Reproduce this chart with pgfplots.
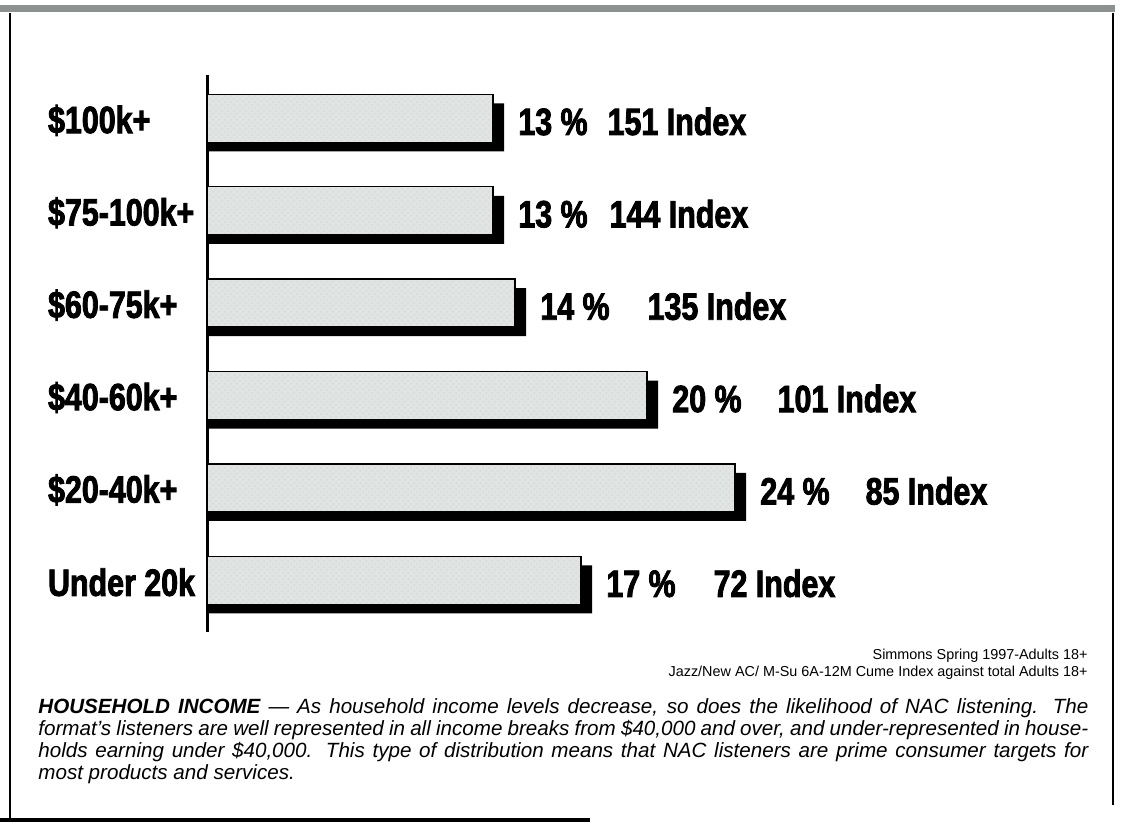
\documentclass[border=0pt]{standalone}
\usepackage{fontspec}
\setmainfont{Liberation Sans}
\newfontfamily\cond[FakeStretch=0.8,BoldFeatures={FakeBold=2.2}]{Liberation Sans}
\usepackage{pgfplots}
\pgfplotsset{compat=1.18}
\usetikzlibrary{patterns}

\definecolor{barfill}{RGB}{224,229,227}
\definecolor{band}{RGB}{140,146,143}

\begin{document}
\begin{tikzpicture}
\useasboundingbox (0,0) rectangle (562.5pt,412.5pt);
% frame
\fill[band] (0,406.5pt) rectangle (557.5pt,410pt);
\draw[line width=1.2pt] (5pt,406pt) -- (5pt,2pt);
\draw[line width=1.2pt] (556.5pt,406pt) -- (556.5pt,10pt);
\draw[line width=1.6pt] (0,2.5pt) -- (295pt,2.5pt);

\begin{axis}[
  anchor=south west, at={(103.5pt,96.5pt)},
  scale only axis, width=440pt, height=278.5pt,
  xmin=0, xmax=40, ymin=-0.56, ymax=5.47,
  axis x line=none, axis y line=left,
  axis line style={-, line width=1.5pt},
  xbar, bar width=24pt,
  ytick={0,1,2,3,4,5},
  yticklabels={Under 20k,\$20-40k+,\$40-60k+,\$60-75k+,\$75-100k+,\$100k+},
  major tick length=0pt,
  yticklabel style={anchor=west, xshift=-83pt, yshift=-1pt, font=\cond\bfseries\fontsize{19}{21}\selectfont},
  clip=false,
]
% drop shadow
\addplot[fill=black, draw=none, bar shift=-4.5pt, x filter/.expression={x+0.5}]
  coordinates {(17,0) (24,1) (20,2) (14,3) (13,4) (13,5)};
% bars
\addplot[fill=barfill, draw=black, line width=0.7pt, bar shift=0pt,
  postaction={pattern=crosshatch dots, pattern color=gray!30},
  nodes near coords, point meta=explicit symbolic,
  every node near coord/.append style={anchor=west, xshift=9pt, yshift=-1.5pt,
    font=\cond\bfseries\fontsize{19}{21}\selectfont}]
  coordinates {
    (17,0) [17 \%\hspace{19pt}72 Index]
    (24,1) [24 \%\hspace{18pt}85 Index]
    (20,2) [20 \%\hspace{18pt}101 Index]
    (14,3) [14 \%\hspace{19pt}135 Index]
    (13,4) [13 \%\hspace{11pt}144 Index]
    (13,5) [13 \%\hspace{10pt}151 Index]
  };
\end{axis}

% source notes
\node[anchor=east, font=\fontsize{7.2}{8.5}\selectfont, inner sep=0]
  at (544pt,84.5pt) {Simmons Spring 1997-Adults 18+};
\node[anchor=east, font=\fontsize{7.2}{8.5}\selectfont, inner sep=0]
  at (544pt,76pt) {Jazz/New AC/ M-Su 6A-12M Cume Index against total Adults 18+};

% caption
\node[anchor=north west, inner sep=0, text width=525pt, align=justify,
  font=\itshape\fontsize{10.3}{11}\selectfont] at (19pt,63.5pt) {%
  \textbf{HOUSEHOLD INCOME} --- As household income levels decrease, so does the likelihood of NAC listening. The\linebreak
  format's listeners are well represented in all income breaks from \$40,000 and over, and under-represented in house-\linebreak
  holds earning under \$40,000. This type of distribution means that NAC listeners are prime consumer targets for\linebreak
  most products and services.};
\end{tikzpicture}
\end{document}
